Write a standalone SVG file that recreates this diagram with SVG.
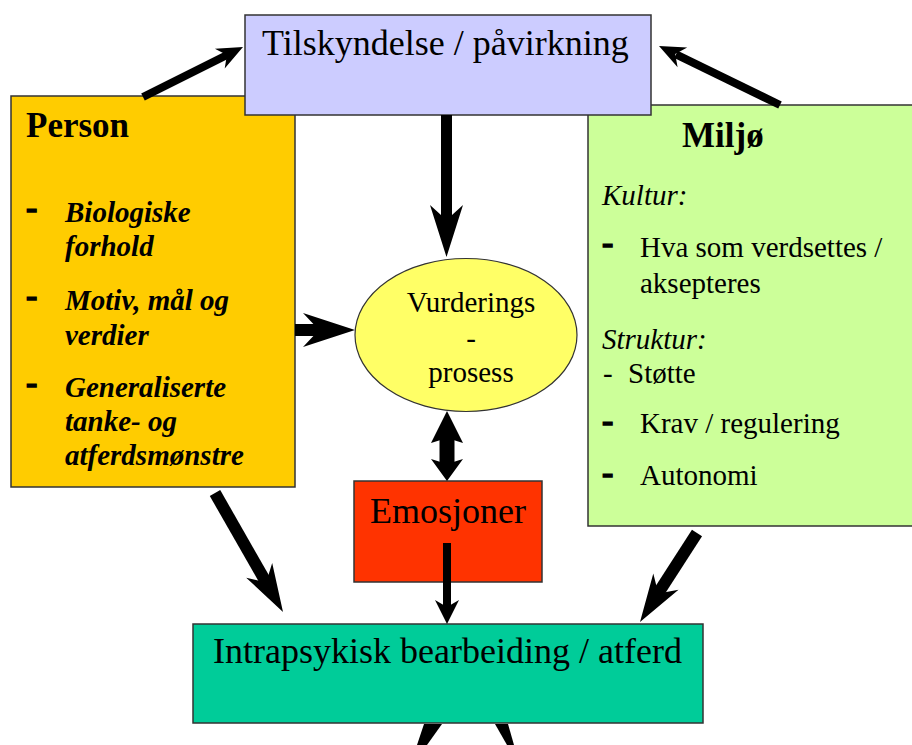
<svg xmlns="http://www.w3.org/2000/svg" width="912" height="745" viewBox="0 0 912 745">
<style>
.box{stroke:#333;stroke-width:1.5}
.t{font-family:"Liberation Serif","Times New Roman","DejaVu Serif",serif;fill:#000}
.big{font-size:36px}
.hdr{font-size:35px;font-weight:bold}
.body{font-size:29px}
.bi{font-size:29px;font-style:italic;font-weight:bold}
.it{font-size:29px;font-style:italic}
.dash{font-size:34px;font-weight:bold;stroke:#000;stroke-width:1.4}
.shaft{stroke:#000;fill:none;stroke-linecap:butt}
.head{fill:#000;stroke:none}
</style>
<rect width="912" height="745" fill="#fff"/>
<g id="person">
<rect class="box" x="11" y="96" width="284" height="391" fill="#FFCC00"/>
<text class="t hdr" x="26" y="137">Person</text>
<text class="t dash" x="26" y="219">-</text>
<text class="t bi" x="65" y="222">Biologiske</text>
<text class="t bi" x="65" y="256">forhold</text>
<text class="t dash" x="26" y="307">-</text>
<text class="t bi" x="65" y="310">Motiv, mål og</text>
<text class="t bi" x="65" y="345">verdier</text>
<text class="t dash" x="26" y="394">-</text>
<text class="t bi" x="65" y="397">Generaliserte</text>
<text class="t bi" x="65" y="431">tanke- og</text>
<text class="t bi" x="65" y="465">atferdsmønstre</text>
</g>
<g id="miljo">
<rect class="box" x="588" y="105" width="330" height="421" fill="#CCFF99"/>
<text class="t hdr" x="682" y="147">Miljø</text>
<text class="t it" x="602" y="205">Kultur:</text>
<text class="t dash" x="602" y="254">-</text>
<text class="t body" x="640" y="257">Hva som verdsettes /</text>
<text class="t body" x="640" y="293">aksepteres</text>
<text class="t it" x="602" y="349">Struktur:</text>
<text class="t body" x="603" y="383">-</text>
<text class="t body" x="628" y="383">Støtte</text>
<text class="t dash" x="602" y="432">-</text>
<text class="t body" x="640" y="433">Krav / regulering</text>
<text class="t dash" x="602" y="484">-</text>
<text class="t body" x="640" y="485">Autonomi</text>
</g>
<g id="tilskyndelse">
<rect class="box" x="245" y="15" width="406" height="100" fill="#CCCCFF"/>
<text class="t big" x="262" y="55">Tilskyndelse / påvirkning</text>
</g>
<g id="vurdering">
<ellipse cx="466" cy="335" rx="111" ry="76.5" fill="#FFFF66" stroke="#333" stroke-width="1.2"/>
<text class="t body" x="471" y="312" text-anchor="middle">Vurderings</text>
<text class="t body" x="471" y="348" text-anchor="middle">-</text>
<text class="t body" x="471" y="382" text-anchor="middle">prosess</text>
</g>
<g id="emosjoner">
<rect class="box" x="354" y="481" width="188" height="101" fill="#FF3300"/>
<text class="t big" x="448" y="523" text-anchor="middle">Emosjoner</text>
</g>
<g id="intrapsykisk">
<rect class="box" x="193" y="624" width="510" height="99" fill="#00CC99"/>
<text class="t big" x="447.5" y="663" text-anchor="middle">Intrapsykisk bearbeiding / atferd</text>
</g>
<g id="connectors">
<line class="shaft" x1="143" y1="97" x2="228" y2="54.5" stroke-width="8"/>
<polygon class="head" points="243,47 214.9,48.8 226.9,55 224.7,68.4"/>
<line class="shaft" x1="780" y1="105" x2="676" y2="54.3" stroke-width="8"/>
<polygon class="head" points="659,46 687.2,47.5 675.2,53.9 677.6,67.3"/>
<line class="shaft" x1="446.5" y1="115" x2="446.5" y2="222" stroke-width="11"/>
<polygon class="head" points="446.5,257 430,205 446.5,220 463,205"/>
<line class="shaft" x1="295" y1="330" x2="321" y2="330" stroke-width="12"/>
<polygon class="head" points="355,330 303,313 319,330 303,347"/>
<line class="shaft" x1="447" y1="437" x2="447" y2="465" stroke-width="15"/>
<polygon class="head" points="447,411 463,443 447,438 431,443"/>
<polygon class="head" points="447,481 463,459 447,464 431,459"/>
<line class="shaft" x1="447" y1="543" x2="447" y2="608" stroke-width="8"/>
<polygon class="head" points="447,624 435,600 447,607 459,600"/>
<line class="shaft" x1="215" y1="493" x2="267" y2="584" stroke-width="12"/>
<polygon class="head" points="283,612 246.2,577.7 266.1,582.5 272.2,562.9"/>
<line class="shaft" x1="697" y1="533" x2="657" y2="595" stroke-width="12"/>
<polygon class="head" points="640,622 653.3,573.5 658.3,593.4 678.5,589.7"/>
<polygon class="head" points="424,724 442,724 427,745 417,745"/>
<polygon class="head" points="495,724 508,724 514,745 507,745"/>
</g>
</svg>
